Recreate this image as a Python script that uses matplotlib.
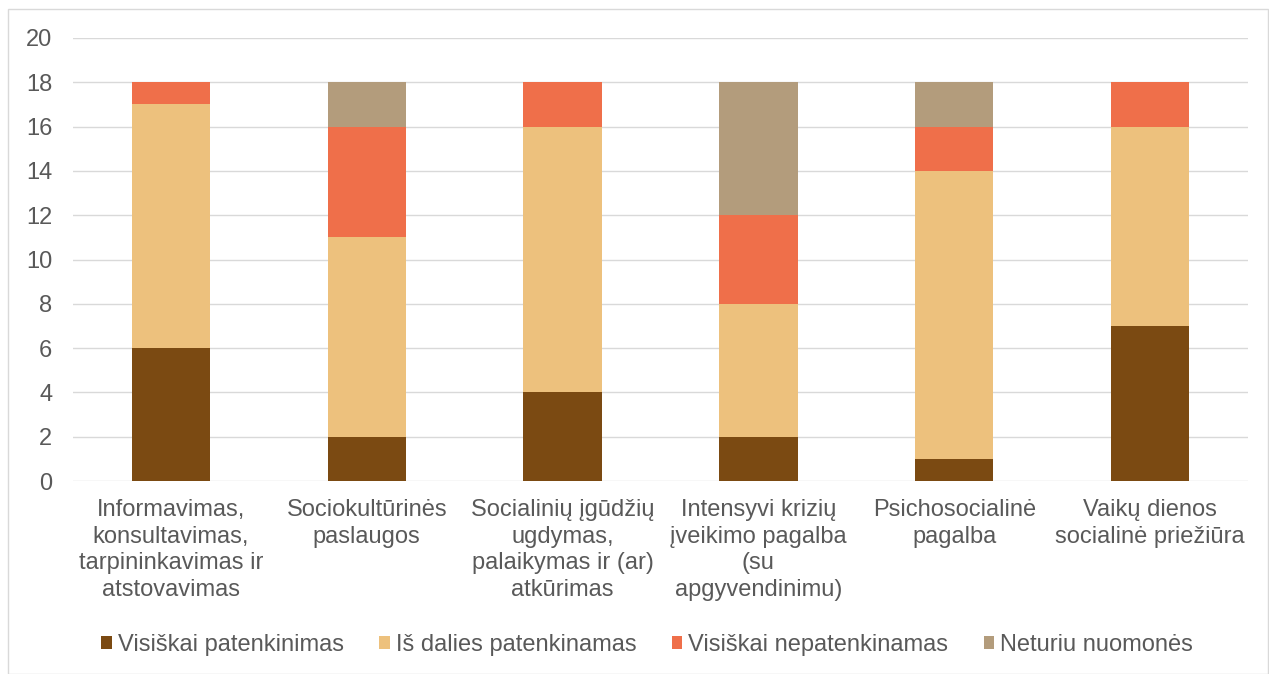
import numpy as np
import matplotlib.pyplot as plt
from matplotlib.patches import Rectangle

plt.rcParams["font.family"] = ["Liberation Sans", "DejaVu Sans"]

categories = [
    "Informavimas,\nkonsultavimas,\ntarpininkavimas ir\natstovavimas",
    "Sociokultūrinės\npaslaugos",
    "Socialinių įgūdžių\nugdymas,\npalaikymas ir (ar)\natkūrimas",
    "Intensyvi krizių\nįveikimo pagalba\n(su\napgyvendinimu)",
    "Psichosocialinė\npagalba",
    "Vaikų dienos\nsocialinė priežiūra",
]
series_names = [
    "Visiškai patenkinimas",
    "Iš dalies patenkinamas",
    "Visiškai nepatenkinamas",
    "Neturiu nuomonės",
]
visiskai_pat = [6, 2, 4, 2, 1, 7]
is_dalies = [11, 9, 12, 6, 13, 9]
visiskai_nepat = [1, 5, 2, 4, 2, 2]
neturiu = [0, 2, 0, 6, 2, 0]
colors = ["#7B4A12", "#EDC17D", "#EF6F4A", "#B39C7C"]

text_col = "#595959"
fs = 17

fig = plt.figure(figsize=(12.69, 6.74), dpi=100)
ax = fig.add_axes([73 / 1269, 1 - 481 / 674, (1248 - 73) / 1269, (481 - 38) / 674])

x = np.arange(len(categories))
bottom = np.zeros(len(categories))
for name, vals, col in zip(series_names, [visiskai_pat, is_dalies, visiskai_nepat, neturiu], colors):
    ax.bar(x, vals, width=0.4, bottom=bottom, color=col, label=name, zorder=3)
    bottom += np.array(vals)

ax.set_xlim(-0.5, len(categories) - 0.5)
ax.set_ylim(0, 20)
ax.set_yticks(range(0, 21, 2))
ax.set_xticks(x)
ax.set_xticklabels(categories, fontsize=fs, color=text_col, linespacing=1.27)
ax.tick_params(axis="y", labelsize=fs, labelcolor=text_col, length=0, pad=15)
ax.tick_params(axis="x", length=0, pad=13)
ax.grid(axis="y", color="#D9D9D9", linewidth=1, zorder=0)
for s in ax.spines.values():
    s.set_visible(False)

# outer frame
fig.patches.append(Rectangle((8 / 1269, 0), 1 - 9 / 1269, 1 - 9 / 674, transform=fig.transFigure,
                             fill=False, edgecolor="#D9D9D9", linewidth=1))

handles, labels = ax.get_legend_handles_labels()
fig.legend(handles, labels, loc="center", bbox_to_anchor=(647 / 1269, 1 - 645 / 674), ncol=4,
           frameon=False, fontsize=fs, labelcolor=text_col, handlelength=0.45, handleheight=0.45,
           handletextpad=0.25, columnspacing=1.5)

fig.savefig("out.png", dpi=100)
